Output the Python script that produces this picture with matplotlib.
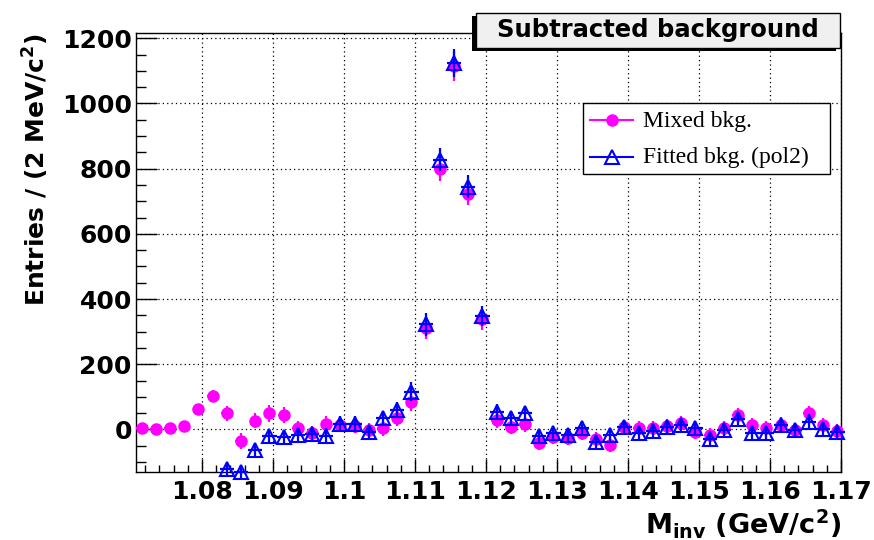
import numpy as np
import matplotlib
matplotlib.use("Agg")
import matplotlib.pyplot as plt
from matplotlib.patches import Rectangle
from matplotlib.lines import Line2D
from matplotlib.ticker import MultipleLocator

plt.rcParams['font.family'] = ['DejaVu Sans']
plt.rcParams['mathtext.fontset'] = 'dejavusans'
plt.rcParams['mathtext.default'] = 'bf'

# ---- data ----
bin_low = 1.0705
bin_width = 0.002
n_bins = 50
mass = bin_low + bin_width * (np.arange(n_bins) + 0.5)

mixed_bkg = [3, 0, 3, 11, 63, 103, 49, -36, 27, 49,
             44, 3, -12, 18, 13, 10, -2, 3, 34, 85,
             310, 798, 1115, 722, 338, 29, 8, 16, -41, -22,
             -25, -10, -30, -48, 8, 5, 5, 10, 20, -7,
             -17, 3, 44, 13, 3, 15, -2, 49, 13, -4]
mixed_err = [6, 6, 7, 8, 15, 18, 22, 25, 24, 25,
             25, 24, 22, 22, 22, 22, 22, 22, 24, 28,
             34, 35, 46, 35, 32, 24, 23, 23, 22, 22,
             22, 22, 22, 22, 22, 22, 22, 22, 22, 22,
             22, 22, 23, 22, 22, 22, 22, 23, 22, 22]

nan = np.nan
fitted_bkg = [nan, nan, nan, nan, nan, nan, -122, -130, -63, -20,
              -23, -17, -14, -19, 18, 18, -7, 34, 59, 116,
              322, 828, 1123, 745, 348, 54, 34, 49, -20, -10,
              -17, 3, -38, -17, 6, -12, -5, 8, 13, 3,
              -28, -2, 31, -10, -10, 13, -2, 24, 0, -7]
fitted_err = [nan, nan, nan, nan, nan, nan, 20, 20, 22, 22,
              22, 22, 22, 22, 22, 22, 22, 22, 24, 28,
              34, 36, 43, 36, 31, 24, 23, 23, 22, 22,
              22, 22, 22, 22, 22, 22, 22, 22, 22, 22,
              22, 22, 23, 22, 22, 22, 22, 23, 22, 22]

x_ticks = [1.08, 1.09, 1.10, 1.11, 1.12, 1.13, 1.14, 1.15, 1.16, 1.17]
x_tick_labels = ['1.08', '1.09', '1.1', '1.11', '1.12', '1.13', '1.14', '1.15', '1.16', '1.17']
y_ticks = [0, 200, 400, 600, 800, 1000, 1200]

labels = ['Mixed bkg.', 'Fitted bkg. (pol2)']
title = 'Subtracted background'

W, H = 874, 540
fig = plt.figure(figsize=(W / 100, H / 100), dpi=100)

def fx(x):
    return x / W

def fy(y):
    return 1 - y / H

ax = fig.add_axes([fx(136), fy(471.8), fx(841) - fx(136), fy(32.7) - fy(471.8)])

magenta = '#ff00ff'
blue = '#0000ff'

ax.errorbar(mass, mixed_bkg, yerr=mixed_err, xerr=0.0008, fmt='o', color=magenta,
            ms=8, elinewidth=1.6, capsize=0, zorder=3, clip_on=False)
eb = ax.errorbar(mass, fitted_bkg, yerr=fitted_err, xerr=0.001, fmt='^', color=blue,
                 mfc='none', mec=blue, mew=1.5, ms=10, elinewidth=1.6, capsize=0,
                 zorder=4, clip_on=False)
for part in eb.lines[2]:
    part.set_clip_on(False)

ax.set_xlim(1.0707, 1.17)
ax.set_ylim(-130, 1217)

ax.xaxis.set_minor_locator(MultipleLocator(0.002))
ax.yaxis.set_minor_locator(MultipleLocator(50))
ax.set_xticks(x_ticks)
ax.set_xticklabels(x_tick_labels)
ax.set_yticks(y_ticks)

ax.tick_params(axis='both', which='both', direction='in', top=False, right=False,
               width=1, color='black')
ax.tick_params(axis='y', which='major', length=15, pad=3, labelsize=18)
ax.tick_params(axis='y', which='minor', length=7.5)
ax.tick_params(axis='x', which='major', length=9.5, pad=6, labelsize=18)
ax.tick_params(axis='x', which='minor', length=4.7)
for lab in ax.get_xticklabels() + ax.get_yticklabels():
    lab.set_fontweight('bold')

ax.grid(True, which='major', color='black', linestyle=(0, (1, 2.5)), linewidth=0.9)
ax.set_axisbelow(True)
for s in ax.spines.values():
    s.set_linewidth(1.0)
    s.set_color('black')

# axis titles
fig.text(fx(841), fy(534), r'M$_{inv}$ (GeV/c$^{2}$)', ha='right', va='baseline',
         fontsize=19.5, fontweight='bold')
fig.text(fx(36), fy(33), r'Entries / (2 MeV/c$^{2}$)', rotation=90, ha='center', va='top',
         fontsize=18, fontweight='bold')

# title box with shadow
x0, x1, y0, y1 = 476, 840, 13.3, 47.7
fig.add_artist(Rectangle((fx(x0 - 4), fy(y1 + 3)), fx(x1 - x0), fy(y0) - fy(y1),
                         transform=fig.transFigure, facecolor='black', edgecolor='none', zorder=5))
fig.add_artist(Rectangle((fx(x0), fy(y1)), fx(x1 - x0), fy(y0) - fy(y1),
                         transform=fig.transFigure, facecolor='#f0f0f0', edgecolor='black',
                         linewidth=1.0, zorder=6))
fig.text(fx((x0 + x1) / 2), fy((y0 + y1) / 2), title, ha='center', va='center',
         fontsize=17.5, fontweight='bold', zorder=7)

# legend
lx0, lx1, ly0, ly1 = 583.3, 830, 103.3, 174.3
fig.add_artist(Rectangle((fx(lx0), fy(ly1)), fx(lx1 - lx0), fy(ly0) - fy(ly1),
                         transform=fig.transFigure, facecolor='white', edgecolor='black',
                         linewidth=1.0, zorder=5))
rows = [(120, magenta, 'o', magenta, 7.5), (156.7, blue, '^', 'none', 10)]
baselines = [127, 163.5]
for (ry, col, mk, mfc, ms), bl, lab in zip(rows, baselines, labels):
    fig.add_artist(Line2D([fx(590), fx(633.3)], [fy(ry), fy(ry)], color=col, lw=1.5,
                          transform=fig.transFigure, zorder=6))
    fig.add_artist(Line2D([fx(611.7)], [fy(ry)], color=col, marker=mk, mfc=mfc, mec=col,
                          mew=1.5, ms=ms, transform=fig.transFigure, zorder=7))
    fig.text(fx(643.3), fy(bl), lab, ha='left', va='baseline', fontsize=17,
             family=['Liberation Serif', 'DejaVu Serif'], zorder=7)

fig.savefig('out.png', dpi=100)
